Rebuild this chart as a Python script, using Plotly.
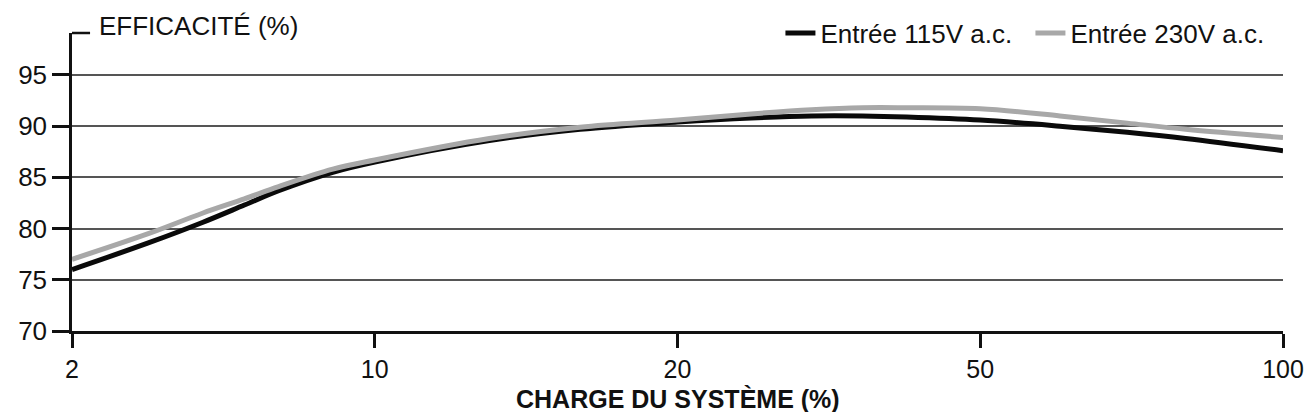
import numpy as np
import plotly.graph_objects as go

# Data
tick_loads = [2, 10, 20, 50, 100]
tick_labels = ["2", "10", "20", "50", "100"]
loads = [2, 3, 4, 5, 6, 8, 10, 13, 16, 20, 25, 30, 35, 40, 50, 60, 70, 80, 100]
eff_115 = [76.0, 78.6, 80.6, 82.3, 83.7, 85.5, 86.5, 88.6, 89.7, 90.4, 90.8, 91.0, 91.0, 90.9,
           90.6, 90.0, 89.4, 88.8, 87.6]
eff_230 = [77.0, 79.5, 81.5, 82.9, 84.1, 85.8, 86.7, 88.8, 89.9, 90.6, 91.2, 91.6, 91.8, 91.8,
           91.7, 91.0, 90.3, 89.7, 88.9]
y_ticks = [70, 75, 80, 85, 90, 95]
series_names = ["Entrée 115V a.c.", "Entrée 230V a.c."]


def load_to_pos(v):
    # axis scale of the chart: equally spaced ticks, log-interpolated between them
    return np.interp(np.log(v), np.log(tick_loads), np.arange(len(tick_loads)))


xpos = load_to_pos(np.array(loads, dtype=float))
FONT = "Liberation Sans, Arial, Helvetica, sans-serif"
FS = 26

fig = go.Figure()
fig.add_trace(go.Scatter(x=xpos, y=eff_115, mode="lines", name=series_names[0],
                         line=dict(color="#0a0a0a", width=5, shape="spline", smoothing=1.0)))
fig.add_trace(go.Scatter(x=xpos, y=eff_230, mode="lines", name=series_names[1],
                         line=dict(color="#a8a8a8", width=5, shape="spline", smoothing=1.0)))

fig.update_layout(
    width=1304, height=412,
    margin=dict(l=72, r=21, t=33, b=81, autoexpand=False),
    paper_bgcolor="white", plot_bgcolor="white",
    font=dict(family=FONT, size=FS, color="#111"),
    showlegend=True,
    legend=dict(orientation="h", x=0.585, xanchor="left", y=1.0, yanchor="middle",
                itemwidth=30, entrywidth=205, font=dict(size=FS), bgcolor="rgba(0,0,0,0)",
                borderwidth=0, tracegroupgap=0),
)
fig.update_xaxes(
    range=[0, len(tick_loads) - 1],
    tickmode="array", tickvals=load_to_pos(np.array(tick_loads, dtype=float)), ticktext=tick_labels,
    ticks="outside", ticklen=14, tickwidth=2.5, tickcolor="#111",
    showline=True, linecolor="#111", linewidth=2.5,
    showgrid=False, zeroline=False, tickfont=dict(size=25), ticklabeloverflow="allow",
)
fig.update_yaxes(
    range=[70, 99.1],
    tickmode="array", tickvals=y_ticks, ticktext=[str(v) for v in y_ticks],
    ticks="outside", ticklen=17, tickwidth=2.5, tickcolor="#111",
    showline=True, linecolor="#111", linewidth=2.5,
    showgrid=True, gridcolor="#555", gridwidth=1.5, zeroline=False,
    tickfont=dict(size=FS), ticklabelstandoff=0, ticklabeloverflow="allow",
)
# small horizontal cap at the top of the y axis
fig.add_shape(type="line", xref="paper", yref="paper", x0=0, x1=0.0149, y0=1, y1=1,
              line=dict(color="#111", width=2.5))
fig.add_annotation(text="EFFICACITÉ (%)", xref="paper", yref="paper", x=0.0206, y=1.023,
                   xanchor="left", yanchor="middle", showarrow=False, font=dict(size=FS))
fig.add_annotation(text="<b>CHARGE DU SYSTÈME (%)</b>", xref="paper", yref="paper", x=0.5,
                   y=-0.228, xanchor="center", yanchor="middle", showarrow=False,
                   font=dict(size=25))

fig.write_html("out.html")
